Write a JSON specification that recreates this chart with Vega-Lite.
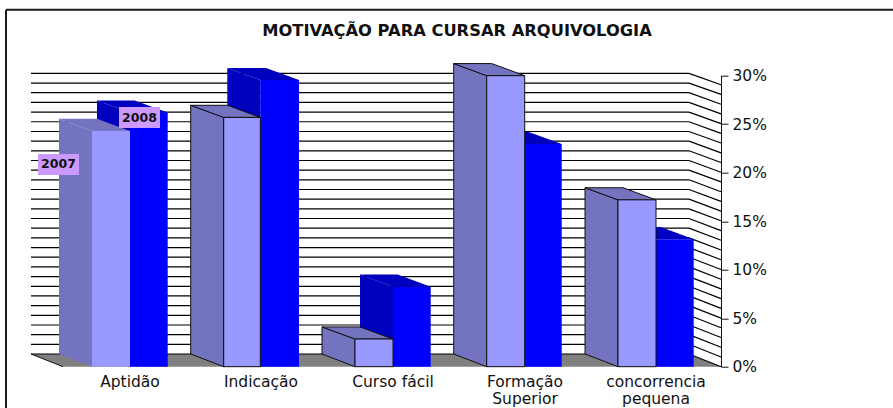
{"$schema":"https://vega.github.io/schema/vega-lite/v6.json","width":721,"height":291,"autosize":{"type":"none"},"padding":{"left":0,"top":75.7,"right":172,"bottom":41.3},"background":"white","view":{"stroke":null},
"datasets":{
"grade":[{"nivel":0,"fundo":1.31,"frente":0},{"nivel":1,"fundo":2.31,"frente":1.0},{"nivel":2,"fundo":3.31,"frente":2.0},{"nivel":3,"fundo":4.3,"frente":3.01},{"nivel":4,"fundo":5.3,"frente":4.01},{"nivel":5,"fundo":6.3,"frente":5.01},{"nivel":6,"fundo":7.3,"frente":6.01},{"nivel":7,"fundo":8.29,"frente":7.02},{"nivel":8,"fundo":9.29,"frente":8.02},{"nivel":9,"fundo":10.29,"frente":9.02},{"nivel":10,"fundo":11.29,"frente":10.02},{"nivel":11,"fundo":12.28,"frente":11.03},{"nivel":12,"fundo":13.28,"frente":12.03},{"nivel":13,"fundo":14.28,"frente":13.03},{"nivel":14,"fundo":15.28,"frente":14.03},{"nivel":15,"fundo":16.27,"frente":15.04},{"nivel":16,"fundo":17.27,"frente":16.04},{"nivel":17,"fundo":18.27,"frente":17.04},{"nivel":18,"fundo":19.27,"frente":18.04},{"nivel":19,"fundo":20.26,"frente":19.05},{"nivel":20,"fundo":21.26,"frente":20.05},{"nivel":21,"fundo":22.26,"frente":21.05},{"nivel":22,"fundo":23.26,"frente":22.05},{"nivel":23,"fundo":24.25,"frente":23.06},{"nivel":24,"fundo":25.25,"frente":24.06},{"nivel":25,"fundo":26.25,"frente":25.06},{"nivel":26,"fundo":27.25,"frente":26.06},{"nivel":27,"fundo":28.25,"frente":27.06},{"nivel":28,"fundo":29.24,"frente":28.07},{"nivel":29,"fundo":30.24,"frente":29.07}],
"barras":[
{"categoria":"Aptidão","serie":"2007","x":92,"x2":130,"valor":24.3},
{"categoria":"Indicação","serie":"2007","x":223.7,"x2":260.3,"valor":25.7},
{"categoria":"Curso fácil","serie":"2007","x":355,"x2":393,"valor":2.85},
{"categoria":"Formação Superior","serie":"2007","x":486.7,"x2":524.7,"valor":30},
{"categoria":"concorrencia pequena","serie":"2007","x":618,"x2":656,"valor":17.2},
{"categoria":"Aptidão","serie":"2008","x":130,"x2":167.7,"valor":26.2},
{"categoria":"Indicação","serie":"2008","x":260.3,"x2":299,"valor":29.55},
{"categoria":"Curso fácil","serie":"2008","x":393,"x2":430.7,"valor":8.25},
{"categoria":"Formação Superior","serie":"2008","x":524.7,"x2":561.7,"valor":22.95},
{"categoria":"concorrencia pequena","serie":"2008","x":656,"x2":693.7,"valor":13.15}],
"laterais":[
{"categoria":"Aptidão","serie":"2007","x":59,"topo":25.55,"base":1.31},{"categoria":"Aptidão","serie":"2007","x":92,"topo":24.3,"base":0},
{"categoria":"Indicação","serie":"2007","x":190.7,"topo":26.95,"base":1.31},{"categoria":"Indicação","serie":"2007","x":223.7,"topo":25.7,"base":0},
{"categoria":"Curso fácil","serie":"2007","x":322,"topo":4.1,"base":1.31},{"categoria":"Curso fácil","serie":"2007","x":355,"topo":2.85,"base":0},
{"categoria":"Formação Superior","serie":"2007","x":453.7,"topo":31.25,"base":1.31},{"categoria":"Formação Superior","serie":"2007","x":486.7,"topo":30,"base":0},
{"categoria":"concorrencia pequena","serie":"2007","x":585,"topo":18.45,"base":1.31},{"categoria":"concorrencia pequena","serie":"2007","x":618,"topo":17.2,"base":0},
{"categoria":"Aptidão","serie":"2008","x":97,"topo":27.45,"base":1.31},{"categoria":"Aptidão","serie":"2008","x":130,"topo":26.2,"base":0},
{"categoria":"Indicação","serie":"2008","x":227.3,"topo":30.8,"base":1.31},{"categoria":"Indicação","serie":"2008","x":260.3,"topo":29.55,"base":0},
{"categoria":"Curso fácil","serie":"2008","x":360,"topo":9.5,"base":1.31},{"categoria":"Curso fácil","serie":"2008","x":393,"topo":8.25,"base":0},
{"categoria":"Formação Superior","serie":"2008","x":491.7,"topo":24.2,"base":1.31},{"categoria":"Formação Superior","serie":"2008","x":524.7,"topo":22.95,"base":0},
{"categoria":"concorrencia pequena","serie":"2008","x":623,"topo":14.4,"base":1.31},{"categoria":"concorrencia pequena","serie":"2008","x":656,"topo":13.15,"base":0}],
"tampos":[
{"categoria":"Aptidão","serie":"2007","y":24.3,"x":92,"x2":130},{"categoria":"Aptidão","serie":"2007","y":25.55,"x":59,"x2":97},
{"categoria":"Indicação","serie":"2007","y":25.7,"x":223.7,"x2":260.3},{"categoria":"Indicação","serie":"2007","y":26.95,"x":190.7,"x2":227.3},
{"categoria":"Curso fácil","serie":"2007","y":2.85,"x":355,"x2":393},{"categoria":"Curso fácil","serie":"2007","y":4.1,"x":322,"x2":360},
{"categoria":"Formação Superior","serie":"2007","y":30,"x":486.7,"x2":524.7},{"categoria":"Formação Superior","serie":"2007","y":31.25,"x":453.7,"x2":491.7},
{"categoria":"concorrencia pequena","serie":"2007","y":17.2,"x":618,"x2":656},{"categoria":"concorrencia pequena","serie":"2007","y":18.45,"x":585,"x2":623},
{"categoria":"Aptidão","serie":"2008","y":26.2,"x":130,"x2":167.7},{"categoria":"Aptidão","serie":"2008","y":27.45,"x":97,"x2":134.7},
{"categoria":"Indicação","serie":"2008","y":29.55,"x":260.3,"x2":299},{"categoria":"Indicação","serie":"2008","y":30.8,"x":227.3,"x2":266},
{"categoria":"Curso fácil","serie":"2008","y":8.25,"x":393,"x2":430.7},{"categoria":"Curso fácil","serie":"2008","y":9.5,"x":360,"x2":397.7},
{"categoria":"Formação Superior","serie":"2008","y":22.95,"x":524.7,"x2":561.7},{"categoria":"Formação Superior","serie":"2008","y":24.2,"x":491.7,"x2":528.7},
{"categoria":"concorrencia pequena","serie":"2008","y":13.15,"x":656,"x2":693.7},{"categoria":"concorrencia pequena","serie":"2008","y":14.4,"x":623,"x2":660.7}],
"legenda":[{"serie":"2007","x":38,"x2":79,"xc":58.5,"y":19.76,"y2":21.93,"yc":20.85},{"serie":"2008","x":119,"x2":160,"xc":139.5,"y":24.6,"y2":26.77,"yc":25.68}],
"rotulos":[{"rotulo":"Aptidão","x":130},{"rotulo":"Indicação","x":261},{"rotulo":"Curso fácil","x":393},{"rotulo":"Formação\nSuperior","x":525},{"rotulo":"concorrencia\npequena","x":656}],
"moldura":[{"x":6,"x2":893,"y":36.8,"y2":36.8},{"x":6,"x2":6,"y":36.8,"y2":-4.3}],
"titulo":[{"texto":"MOTIVAÇÃO PARA CURSAR ARQUIVOLOGIA","x":457,"y":34.1}]
},
"layer":[
{"data":{"name":"moldura"},"mark":{"type":"rule","color":"#1a1a1a","strokeWidth":2},"encoding":{"x":{"field":"x","type":"quantitative","scale":{"domain":[0,721],"nice":false,"zero":false},"axis":null},"x2":{"field":"x2"},"y":{"field":"y","type":"quantitative","scale":{"domain":[0,30],"nice":false,"zero":false},"axis":{"orient":"right","values":[0,5,10,15,20,25,30],"labelExpr":"datum.value + '%'","title":null,"grid":false,"domainColor":"#111111","tickColor":"#111111","tickSize":7,"labelPadding":4,"labelFont":"DejaVu Sans","labelFontSize":15.5,"labelColor":"#111111"}},"y2":{"field":"y2"}}},
{"data":{"values":[{"y":0,"x":63,"x2":721},{"y":1.31,"x":31,"x2":689}]},"mark":{"type":"area","orient":"horizontal","color":"#808080"},"encoding":{"y":{"field":"y","type":"quantitative"},"x":{"field":"x","type":"quantitative"},"x2":{"field":"x2"}}},
{"data":{"values":[{"x":31,"x2":63,"y":1.31,"y2":0}]},"mark":{"type":"rule","color":"#111111"},"encoding":{"x":{"field":"x","type":"quantitative"},"x2":{"field":"x2"},"y":{"field":"y","type":"quantitative"},"y2":{"field":"y2"}}},
{"data":{"name":"grade"},"mark":{"type":"rule","color":"#000000","strokeWidth":1.2},"encoding":{"x":{"datum":31,"type":"quantitative"},"x2":{"datum":689},"y":{"field":"fundo","type":"quantitative"}}},
{"data":{"name":"grade"},"mark":{"type":"rule","color":"#000000","strokeWidth":1.2},"encoding":{"x":{"datum":689,"type":"quantitative"},"x2":{"datum":721},"y":{"field":"fundo","type":"quantitative"},"y2":{"field":"frente"}}},
{"data":{"name":"laterais"},"transform":[{"filter":"datum.serie === '2008'"}],"mark":{"type":"area","color":"#0000BF"},"encoding":{"detail":{"field":"categoria"},"x":{"field":"x","type":"quantitative"},"y":{"field":"topo","type":"quantitative","stack":null},"y2":{"field":"base"}}},
{"data":{"name":"tampos"},"transform":[{"filter":"datum.serie === '2008'"}],"mark":{"type":"area","orient":"horizontal","color":"#0000BF"},"encoding":{"detail":{"field":"categoria"},"y":{"field":"y","type":"quantitative"},"x":{"field":"x","type":"quantitative","stack":null},"x2":{"field":"x2"}}},
{"data":{"name":"barras"},"transform":[{"filter":"datum.serie === '2008'"}],"mark":{"type":"rect","color":"#0000FF"},"encoding":{"x":{"field":"x","type":"quantitative"},"x2":{"field":"x2"},"y":{"field":"valor","type":"quantitative"},"y2":{"datum":0}}},
{"data":{"name":"laterais"},"transform":[{"filter":"datum.serie === '2007'"}],"mark":{"type":"area","color":"#7373BF"},"encoding":{"detail":{"field":"categoria"},"x":{"field":"x","type":"quantitative"},"y":{"field":"topo","type":"quantitative","stack":null},"y2":{"field":"base"},"stroke":{"condition":{"test":"datum.categoria !== 'Aptidão'","value":"#111111"},"value":"transparent"}}},
{"data":{"name":"tampos"},"transform":[{"filter":"datum.serie === '2007'"}],"mark":{"type":"area","orient":"horizontal","color":"#7373BF"},"encoding":{"detail":{"field":"categoria"},"y":{"field":"y","type":"quantitative"},"x":{"field":"x","type":"quantitative","stack":null},"x2":{"field":"x2"},"stroke":{"condition":{"test":"datum.categoria !== 'Aptidão'","value":"#111111"},"value":"transparent"}}},
{"data":{"name":"barras"},"transform":[{"filter":"datum.serie === '2007'"}],"mark":{"type":"rect","color":"#9999FF"},"encoding":{"x":{"field":"x","type":"quantitative"},"x2":{"field":"x2"},"y":{"field":"valor","type":"quantitative"},"y2":{"datum":0},"stroke":{"condition":{"test":"datum.categoria !== 'Aptidão'","value":"#111111"},"value":"transparent"}}},
{"data":{"name":"legenda"},"mark":{"type":"rect","color":"#CC99FF"},"encoding":{"x":{"field":"x","type":"quantitative"},"x2":{"field":"x2"},"y":{"field":"y","type":"quantitative"},"y2":{"field":"y2"}}},
{"data":{"name":"legenda"},"mark":{"type":"text","font":"DejaVu Sans","fontWeight":"bold","fontSize":12.5,"color":"#111111","align":"center","baseline":"middle"},"encoding":{"x":{"field":"xc","type":"quantitative"},"y":{"field":"yc","type":"quantitative"},"text":{"field":"serie"}}},
{"data":{"name":"rotulos"},"mark":{"type":"text","font":"DejaVu Sans","fontSize":15.5,"color":"#111111","align":"center","baseline":"alphabetic","dy":20,"lineBreak":"\n","lineHeight":17},"encoding":{"x":{"field":"x","type":"quantitative"},"y":{"datum":0,"type":"quantitative"},"text":{"field":"rotulo"}}},
{"data":{"name":"titulo"},"mark":{"type":"text","font":"DejaVu Sans","fontWeight":"bold","fontSize":16.3,"color":"#111111","align":"center","baseline":"alphabetic"},"encoding":{"x":{"field":"x","type":"quantitative"},"y":{"field":"y","type":"quantitative"},"text":{"field":"texto"}}}
],
"resolve":{"scale":{"x":"shared","y":"shared"}}}
